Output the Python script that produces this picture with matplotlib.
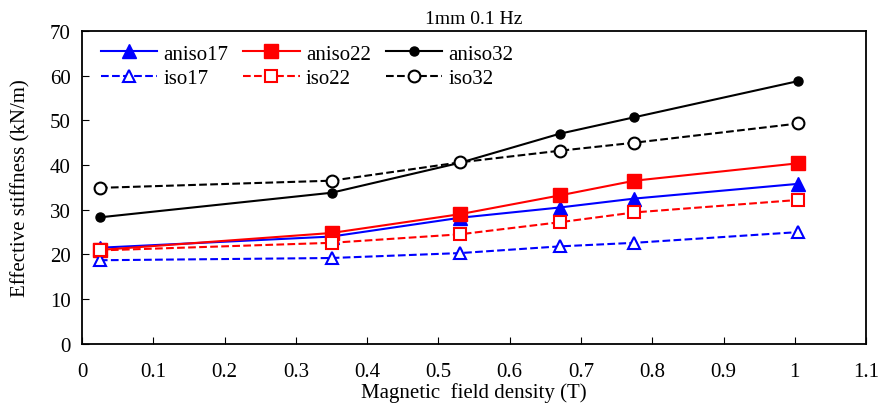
import numpy as np
import matplotlib
matplotlib.use("Agg")
import matplotlib.pyplot as plt

plt.rcParams['font.family'] = ['Liberation Serif', 'DejaVu Serif']

# campo magnetico (T)
campo = [0.025, 0.35, 0.53, 0.67, 0.775, 1.005]

aniso17 = [21.5, 24.0, 28.2, 30.5, 32.5, 35.8]
aniso22 = [21.0, 24.8, 29.0, 33.2, 36.5, 40.4]
aniso32 = [28.3, 33.8, 40.5, 47.0, 50.7, 58.8]
iso17 = [18.7, 19.2, 20.3, 21.8, 22.6, 25.0]
iso22 = [20.9, 22.6, 24.5, 27.2, 29.4, 32.2]
iso32 = [34.9, 36.5, 40.6, 43.2, 45.0, 49.3]

x_ticks = [0, 0.1, 0.2, 0.3, 0.4, 0.5, 0.6, 0.7, 0.8, 0.9, 1, 1.1]
x_tick_labels = ["0", "0.1", "0.2", "0.3", "0.4", "0.5", "0.6", "0.7", "0.8", "0.9", "1", "1.1"]

fig = plt.figure(figsize=(8.82, 4.10), dpi=100)
ax = fig.add_axes([0.093, 0.159, 0.889, 0.763])

l_a17, = ax.plot(campo, aniso17, "-", color="blue", marker="^", ms=10, lw=1.5, label="aniso17")
l_a22, = ax.plot(campo, aniso22, "-", color="red", marker="s", ms=10, lw=1.5, label="aniso22")
l_a32, = ax.plot(campo, aniso32, "-", color="black", marker="o", ms=6.5, lw=1.5, label="aniso32")
l_i17, = ax.plot(campo, iso17, "--", color="blue", marker="^", ms=8, mfc="white", mew=1.5, lw=1.5, label="iso17")
l_i22, = ax.plot(campo, iso22, "--", color="red", marker="s", ms=8, mfc="white", mew=1.5, lw=1.5, label="iso22")
l_i32, = ax.plot(campo, iso32, "--", color="black", marker="o", ms=8.5, mfc="white", mew=1.5, lw=1.5, label="iso32")

ax.set_xlim(0, 1.1)
ax.set_ylim(0, 70)
ax.set_xticks(x_ticks)
ax.set_xticklabels(x_tick_labels)
ax.set_yticks(np.arange(0, 71, 10))
ax.tick_params(direction="in", labelsize=15, length=5, pad=8)
ax.tick_params(axis="x", pad=13)
for s in ax.spines.values():
	s.set_linewidth(1.3)

ax.set_xlabel("Magnetic  field density (T)", fontsize=15, labelpad=1)
ax.set_ylabel("Effective stiffness (kN/m)", fontsize=15, labelpad=14)
ax.set_title("1mm 0.1 Hz", fontsize=14, pad=6)

# ordem por linha na legenda
handles = [l_a17, l_i17, l_a22, l_i22, l_a32, l_i32]
ax.legend(handles=handles, loc="upper left", bbox_to_anchor=(0.0, 1.018), ncol=3,
	frameon=False, fontsize=15,
	handlelength=2.7, columnspacing=0.72, labelspacing=0.25,
	borderaxespad=0.5, handletextpad=0.3)

fig.savefig("out.png", dpi=100)
